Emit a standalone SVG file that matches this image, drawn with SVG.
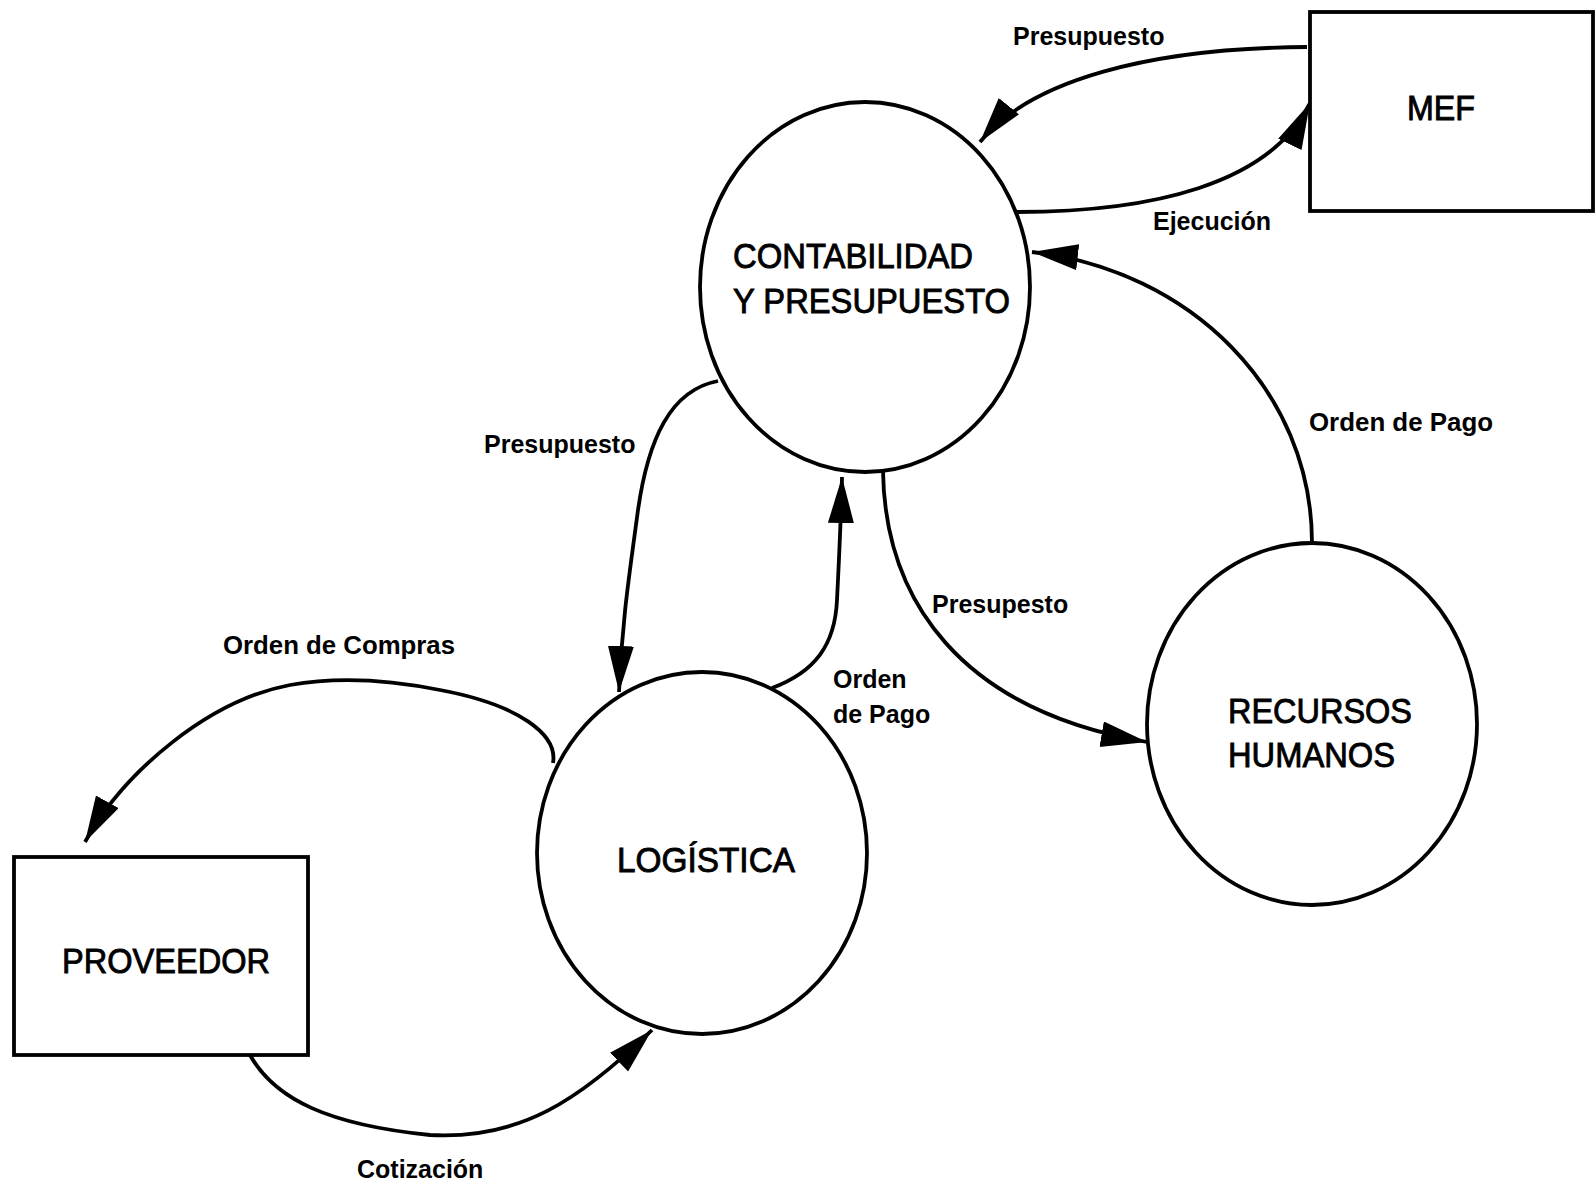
<svg xmlns="http://www.w3.org/2000/svg" width="1595" height="1186" viewBox="0 0 1595 1186">
<style>
.node{fill:#fff;stroke:#000;stroke-width:3.8}
.conn{fill:none;stroke:#000;stroke-width:3.8;marker-end:url(#ah)}
.nt{font-family:"Liberation Sans",Arial,sans-serif;font-size:35px;fill:#000;stroke:#000;stroke-width:0.9}
.lb{font-family:"Liberation Sans",Arial,sans-serif;font-size:25px;font-weight:bold;fill:#000}
</style>
<defs>
<marker id="ah" markerUnits="userSpaceOnUse" markerWidth="48" markerHeight="28" refX="46" refY="13" orient="auto">
<path d="M0,0 L46,13 L0,26 z" fill="#000"/>
</marker>
</defs>
<rect width="1595" height="1186" fill="#fff"/>
<g id="connectors">
<path class="conn" d="M1307,47 C1150,48 1030,80 980,142"/>
<path class="conn" d="M1017,212 C1150,212 1270,185 1310,103"/>
<path class="conn" d="M1312,543 C1312,390 1190,270 1032,252"/>
<path class="conn" d="M883,471 C885,600 960,710 1147,742"/>
<path class="conn" d="M718,381 C670,390 648,440 638,510 C630,570 622,620 619,692"/>
<path class="conn" d="M772,688 C815,672 835,645 837,600 C839,560 841,520 842,477"/>
<path class="conn" d="M553,763 C558,735 520,705 440,690 C390,680 340,676 290,685 C210,700 125,770 85,842"/>
<path class="conn" d="M250,1055 C275,1100 330,1125 430,1135 C520,1140 580,1100 652,1030"/>
<text class="lb" x="1013" y="45">Presupuesto</text>
<text class="lb" x="1153" y="230">Ejecución</text>
<text class="lb" x="1309" y="431" textLength="184" lengthAdjust="spacingAndGlyphs">Orden de Pago</text>
<text class="lb" x="932" y="613">Presupesto</text>
<text class="lb" x="484" y="453">Presupuesto</text>
<text class="lb" x="833" y="688">Orden</text>
<text class="lb" x="833" y="723">de Pago</text>
<text class="lb" x="223" y="654" textLength="232" lengthAdjust="spacingAndGlyphs">Orden de Compras</text>
<text class="lb" x="357" y="1178">Cotización</text>
</g>
<g id="mef">
<rect class="node" x="1310" y="12" width="283" height="199"/>
<text class="nt" x="1407" y="120" textLength="68" lengthAdjust="spacingAndGlyphs">MEF</text>
</g>
<g id="contabilidad">
<ellipse class="node" cx="865" cy="287" rx="165" ry="185"/>
<text class="nt" x="733" y="268" textLength="240" lengthAdjust="spacingAndGlyphs">CONTABILIDAD</text>
<text class="nt" x="733" y="313" textLength="277" lengthAdjust="spacingAndGlyphs">Y PRESUPUESTO</text>
</g>
<g id="recursos">
<ellipse class="node" cx="1312" cy="724" rx="165" ry="181"/>
<text class="nt" x="1228" y="723" textLength="184" lengthAdjust="spacingAndGlyphs">RECURSOS</text>
<text class="nt" x="1228" y="767" textLength="167" lengthAdjust="spacingAndGlyphs">HUMANOS</text>
</g>
<g id="logistica">
<ellipse class="node" cx="702" cy="853" rx="165" ry="181"/>
<text class="nt" x="617" y="872" textLength="178" lengthAdjust="spacingAndGlyphs">LOGÍSTICA</text>
</g>
<g id="proveedor">
<rect class="node" x="14" y="857" width="294" height="198"/>
<text class="nt" x="62" y="973" textLength="208" lengthAdjust="spacingAndGlyphs">PROVEEDOR</text>
</g>
</svg>
